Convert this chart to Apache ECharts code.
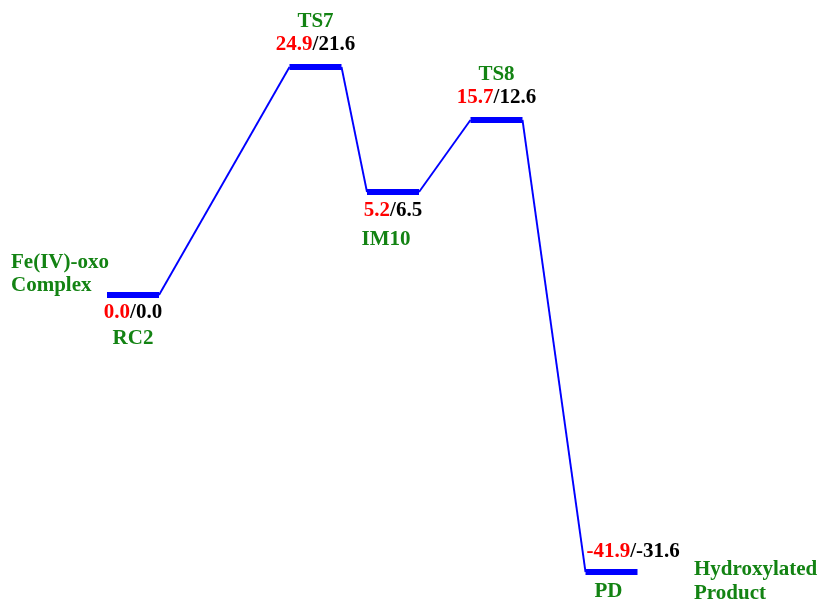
<!DOCTYPE html>
<html><head><meta charset="utf-8">
<script src="https://cdn.jsdelivr.net/npm/echarts@6/dist/echarts.min.js"></script>
<style>html,body{margin:0;padding:0;background:#fff}#c{width:817px;height:604px}</style>
</head><body><div id="c"></div>
<script>
// Stage names and energies (kcal/mol): red = first set, black = second set
const stages = ['RC2', 'TS7', 'IM10', 'TS8', 'PD'];
const redE = ['0.0', '24.9', '5.2', '15.7', '-41.9'];
const blackE = ['0.0', '21.6', '6.5', '12.6', '-31.6'];
// schematic drawing height of each level (diagram is not to scale)
const plotLevel = [0, 22.8, 10.3, 17.5, -27.7];
// reaction coordinate position of each level centre
const stageX = [1.0, 2.825, 3.6, 4.635, 5.785];
const halfW = 0.26;
const leftNote = ['Fe(IV)-oxo', 'Complex'];
const rightNote = ['Hydroxylated', 'Product'];

const BLUE = '#0000ff', GREEN = '#138313', RED = '#ff0000';
const FONT = '"Liberation Serif", "Times New Roman", serif';
const FS = 21;

const levelLines = stages.map((s, i) => ({coords: [[stageX[i] - halfW, plotLevel[i]], [stageX[i] + halfW, plotLevel[i]]]}));
const connLines = [];
for (let i = 0; i < stages.length - 1; i++) {
  connLines.push({coords: [[stageX[i] + halfW, plotLevel[i]], [stageX[i + 1] - halfW, plotLevel[i + 1]]]});
}

const chart = echarts.init(document.getElementById('c'), null, {renderer: 'canvas'});
chart.setOption({
  animation: false,
  grid: {left: 0, right: 0, top: 0, bottom: 0},
  xAxis: {type: 'value', min: -0.33, max: 7.84, show: false},
  yAxis: {type: 'value', min: -30.9, max: 29.5, show: false},
  series: [
    {type: 'lines', coordinateSystem: 'cartesian2d', polyline: false, silent: true,
     lineStyle: {color: BLUE, width: 1.9, opacity: 1}, data: connLines, z: 2},
    {type: 'lines', coordinateSystem: 'cartesian2d', polyline: false, silent: true,
     lineStyle: {color: BLUE, width: 6, opacity: 1, cap: 'butt'}, data: levelLines, z: 3}
  ]
});

// labels placed relative to each level, via the chart's own scale
const g = [];
const txt = (x, y, rich, align) => g.push({type: 'text', x: x, y: y, style: {
  text: rich, fontFamily: FONT, fontWeight: 'bold', fontSize: FS, align: align || 'center',
  verticalAlign: 'middle', rich: {r: {fill: RED, fontFamily: FONT, fontWeight: 'bold', fontSize: FS},
  k: {fill: '#000', fontFamily: FONT, fontWeight: 'bold', fontSize: FS},
  gn: {fill: GREEN, fontFamily: FONT, fontWeight: 'bold', fontSize: FS}}}});
stages.forEach((s, i) => {
  const p = chart.convertToPixel({gridIndex: 0}, [stageX[i], plotLevel[i]]);
  const val = '{r|' + redE[i] + '}{k|/' + blackE[i] + '}';
  const nm = '{gn|' + s + '}';
  if (s === 'TS7' || s === 'TS8') {
    txt(p[0], p[1] - 22, val);
    txt(p[0], p[1] - 45, nm);
  } else if (s === 'PD') {
    txt(p[0] - 25, p[1] - 20, val, 'left');
    txt(p[0] - 3, p[1] + 20, nm);
  } else if (s === 'IM10') {
    txt(p[0], p[1] + 19, val);
    txt(p[0] - 7, p[1] + 48, nm);
  } else {
    txt(p[0], p[1] + 18, val);
    txt(p[0], p[1] + 44, nm);
  }
});
const p0 = chart.convertToPixel({gridIndex: 0}, [stageX[0], plotLevel[0]]);
txt(11, p0[1] - 32, '{gn|' + leftNote[0] + '}', 'left');
txt(11, p0[1] - 9, '{gn|' + leftNote[1] + '}', 'left');
const p4 = chart.convertToPixel({gridIndex: 0}, [stageX[4], plotLevel[4]]);
txt(694, p4[1] - 2, '{gn|' + rightNote[0] + '}', 'left');
txt(694, p4[1] + 22, '{gn|' + rightNote[1] + '}', 'left');
chart.setOption({graphic: g});
</script></body></html>
